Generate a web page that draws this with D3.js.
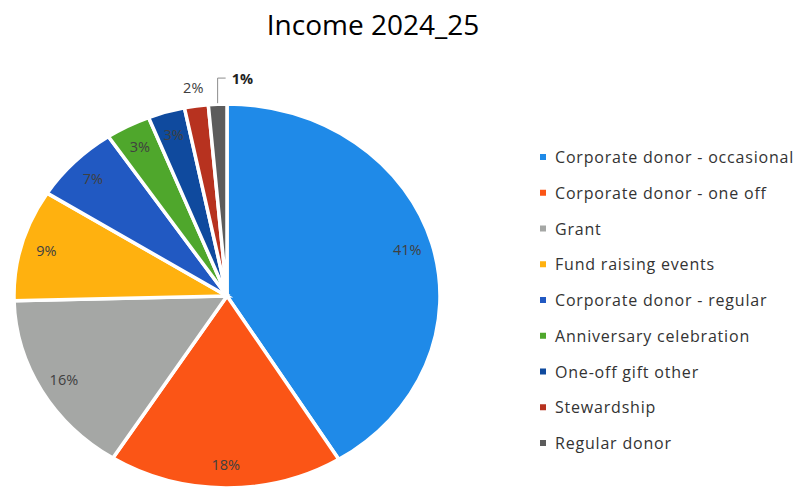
<!DOCTYPE html>
<html>
<head>
<meta charset="utf-8">
<script src="https://cdn.jsdelivr.net/npm/d3@7"></script>
<style>
  html, body { margin: 0; padding: 0; background: #fff; }
  svg { display: block; }
</style>
</head>
<body>
<svg id="chart" width="798" height="491"></svg>
<script>
// ---- data (percent of income) ----
const title = "Income 2024_25";
const categories = [
  "Corporate donor - occasional",
  "Corporate donor - one off",
  "Grant",
  "Fund raising events",
  "Corporate donor - regular",
  "Anniversary celebration",
  "One-off gift other",
  "Stewardship",
  "Regular donor"
];
const values = [41.2, 17.8, 15.6, 9.4, 6.6, 3.4, 2.8, 1.8, 1.4];
const colors = ["#1f8ae8", "#fb5516", "#a5a7a5", "#ffb10f", "#2159c2", "#4fa72c", "#0f4a9e", "#b7321f", "#5c5c5c"];
// label placement: "in" = inside slice, "out" = outside, "leader" = outside with leader line
const labelModes = ["in", "in", "in", "in", "in", "in", "in", "out", "leader"];

const W = 798, H = 491;
const cx = 227, cy = 296, rx = 213, ry = 192;
const sx = rx / ry;

const svg = d3.select("#chart");
const fontFamily = "'Open Sans', 'Liberation Sans', sans-serif";

// Title
svg.append("text")
  .attr("x", 373).attr("y", 35)
  .attr("text-anchor", "middle")
  .attr("font-family", fontFamily)
  .attr("font-size", 28)
  .attr("fill", "#000")
  .text(title);

const data = categories.map((c, i) => ({ name: c, value: values[i], color: colors[i], mode: labelModes[i] }));
const total = d3.sum(values);

const pie = d3.pie().value(d => d.value).sort(null);
const arcs = pie(data);
const arc = d3.arc().innerRadius(0).outerRadius(ry);

const g = svg.append("g").attr("transform", `translate(${cx},${cy}) scale(${sx},1)`);
g.selectAll("path")
  .data(arcs)
  .join("path")
  .attr("d", arc)
  .attr("fill", d => d.data.color)
  .attr("stroke", "#fff")
  .attr("stroke-width", 3.5)
  .attr("vector-effect", "non-scaling-stroke")
  .attr("stroke-linejoin", "miter");

const fmt = v => Math.round(v / total * 100) + "%";
function toScreen(r, angle) {
  return [cx + sx * r * Math.sin(angle), cy - r * Math.cos(angle)];
}

const labels = svg.append("g")
  .attr("font-family", fontFamily)
  .attr("font-size", 14.5)
  .attr("fill", "#404040");

arcs.forEach(d => {
  const mid = (d.startAngle + d.endAngle) / 2;
  if (d.data.mode === "in") {
    const [x, y] = toScreen(ry * 0.88, mid);
    labels.append("text").attr("x", x).attr("y", y)
      .attr("text-anchor", "middle").attr("dominant-baseline", "central")
      .text(fmt(d.data.value));
  } else if (d.data.mode === "out") {
    const [x, y] = toScreen(ry * 1.1, mid);
    labels.append("text").attr("x", x).attr("y", y)
      .attr("text-anchor", "middle").attr("dominant-baseline", "central")
      .text(fmt(d.data.value));
  } else {
    const [x0, y0] = toScreen(ry, mid);
    const yTop = cy - ry * 1.135;
    svg.append("path")
      .attr("d", `M${x0},${y0 - 1}V${yTop}H${x0 + 8}`)
      .attr("fill", "none").attr("stroke", "#8c8c8c").attr("stroke-width", 1);
    labels.append("text").attr("x", x0 + 14).attr("y", yTop)
      .attr("dominant-baseline", "central")
      .attr("font-weight", "bold").attr("fill", "#222")
      .text(fmt(d.data.value));
  }
});

// Legend
const legendY = d3.scalePoint().domain(categories).range([157, 443]);
const legend = svg.append("g")
  .attr("font-family", fontFamily)
  .attr("font-size", 16)
  .attr("fill", "#333");
categories.forEach((c, i) => {
  const y = legendY(c);
  legend.append("rect").attr("x", 540).attr("y", y - 3).attr("width", 6).attr("height", 6).attr("fill", colors[i]);
  legend.append("text").attr("x", 555).attr("y", y)
    .attr("dominant-baseline", "central")
    .attr("letter-spacing", 0.8)
    .text(c);
});
</script>
</body>
</html>
